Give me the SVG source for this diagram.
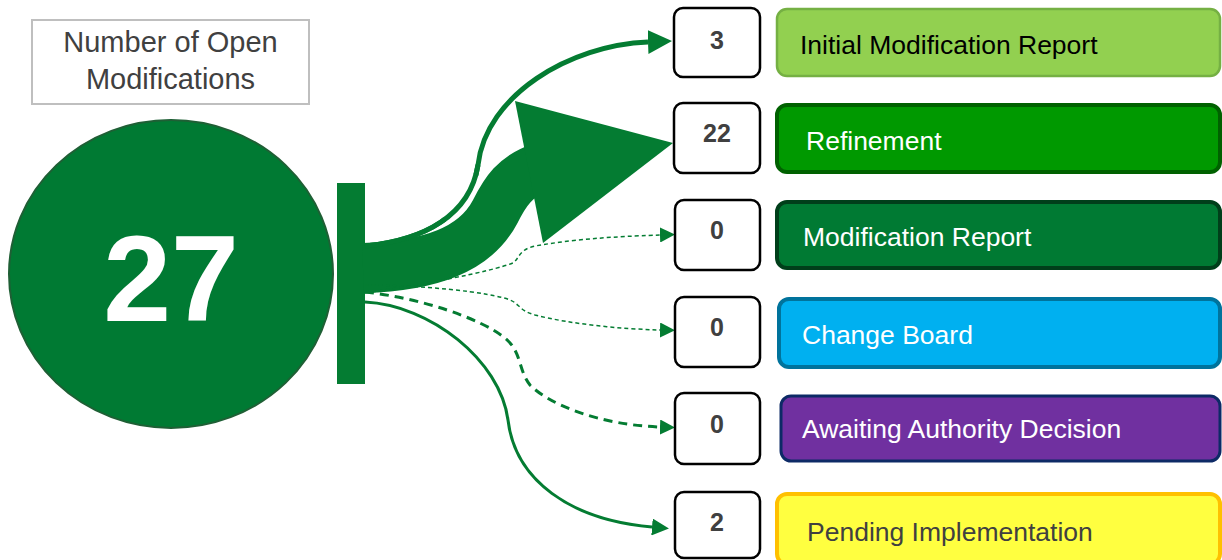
<svg xmlns="http://www.w3.org/2000/svg" width="1222" height="560" viewBox="0 0 1222 560">
<style>
.num{fill:#fff;stroke:#000;stroke-width:2.5}
.numt{font-family:"Liberation Sans",Arial,sans-serif;font-weight:bold;font-size:25px;fill:#404040;text-anchor:middle}
.lbl{font-family:"Liberation Sans",Arial,sans-serif;font-size:26.5px}
.ttl{font-family:"Liberation Sans",Arial,sans-serif;font-size:29px;fill:#404040;text-anchor:middle}
.cn{fill:none;stroke:#047c32}
</style>
<defs>
<marker id="mA" markerUnits="userSpaceOnUse" markerWidth="24" markerHeight="24" refX="0" refY="12" orient="auto" viewBox="0 0 24 24"><path d="M0,0 L24,12 L0,24 Z" fill="#047c32"/></marker>
<marker id="mB" markerUnits="userSpaceOnUse" markerWidth="15" markerHeight="15" refX="0" refY="7.5" orient="auto" viewBox="0 0 15 15"><path d="M0,0 L15,7.5 L0,15 Z" fill="#047c32"/></marker>
<marker id="mC" markerUnits="userSpaceOnUse" markerWidth="17" markerHeight="17" refX="0" refY="8.5" orient="auto" viewBox="0 0 17 17"><path d="M0,0 L17,8.5 L0,17 Z" fill="#047c32"/></marker>
</defs>
<rect width="1222" height="560" fill="#fff"/>
<g id="title">
<rect x="32" y="20" width="277" height="84" fill="#fff" stroke="#bfbfbf" stroke-width="2"/>
<text class="ttl" x="170.5" y="52">Number of Open</text>
<text class="ttl" x="170.5" y="89">Modifications</text>
</g>
<g id="total">
<ellipse cx="171" cy="274" rx="162" ry="154" fill="#007a33" stroke="#1f5f35" stroke-width="2"/>
<text x="171" y="321" text-anchor="middle" font-family="Liberation Sans,Arial,sans-serif" font-weight="bold" font-size="122" fill="#fff">27</text>
</g>
<g id="connectors">
<rect x="337" y="183" width="28" height="201" fill="#047c32"/>
<path class="cn" d="M365,246 C425,240 470,215 478,165 C486,95 570,45 648,42" stroke-width="5" marker-end="url(#mA)"/>
<path class="cn" d="M363,268 C430,266 475,250 495,212 C505,192 515,176 540,168" stroke-width="50"/>
<path d="M365,246 C425,240 470,215 478,165" fill="none" stroke="#fff" stroke-width="8" stroke-dasharray="0 85 55 1000"/>
<path class="cn" d="M365,246 C425,240 470,215 478,165" stroke-width="5"/>
<polygon points="515,101 673,143 543,243" fill="#047c32"/>
<path class="cn" d="M365,293 C420,285 490,272 513,263 C520,258 518,250 535,246 C580,238 630,236 660,235" stroke-width="1.5" stroke-dasharray="4 3" marker-end="url(#mB)"/>
<path class="cn" d="M365,285 C420,285 490,292 510,300 C520,304 518,310 535,315 C570,324 620,329 660,330" stroke-width="1.5" stroke-dasharray="4 3" marker-end="url(#mB)"/>
<path class="cn" d="M365,292 C420,298 480,318 505,338 C522,352 518,370 530,385 C550,405 600,425 660,427" stroke-width="3" stroke-dasharray="9 6" marker-end="url(#mB)"/>
<path class="cn" d="M365,302 C430,305 500,360 508,420 C515,480 570,520 652,527" stroke-width="3" marker-end="url(#mC)"/>
</g>
<g id="n1"><rect class="num" x="674" y="8" width="86" height="69" rx="9"/><text class="numt" x="717" y="49">3</text></g>
<g id="n2"><rect class="num" x="674" y="103" width="86" height="70" rx="9"/><text class="numt" x="717" y="142">22</text></g>
<g id="n3"><rect class="num" x="675" y="200" width="85" height="70" rx="9"/><text class="numt" x="717" y="239">0</text></g>
<g id="n4"><rect class="num" x="675" y="297" width="85" height="70" rx="9"/><text class="numt" x="717" y="336">0</text></g>
<g id="n5"><rect class="num" x="675" y="393" width="85" height="71" rx="9"/><text class="numt" x="717" y="433">0</text></g>
<g id="n6"><rect class="num" x="675" y="492" width="85" height="66" rx="9"/><text class="numt" x="717" y="531">2</text></g>
<g id="s1"><rect x="777" y="9" width="443" height="67" rx="10" fill="#92d050" stroke="#75b043" stroke-width="2.5"/><text class="lbl" x="800" y="54" fill="#000">Initial Modification Report</text></g>
<g id="s2"><rect x="777" y="105" width="443" height="67" rx="10" fill="#009900" stroke="#006100" stroke-width="4"/><text class="lbl" x="806" y="150" fill="#fff">Refinement</text></g>
<g id="s3"><rect x="777" y="202" width="443" height="66" rx="10" fill="#007a33" stroke="#003f1a" stroke-width="4"/><text class="lbl" x="803" y="246" fill="#fff">Modification Report</text></g>
<g id="s4"><rect x="779" y="299" width="441" height="68" rx="10" fill="#00b0f0" stroke="#00739c" stroke-width="4"/><text class="lbl" x="802" y="344" fill="#fff">Change Board</text></g>
<g id="s5"><rect x="781" y="396" width="439" height="65" rx="10" fill="#7030a0" stroke="#0d2a66" stroke-width="3"/><text class="lbl" x="802" y="438" fill="#fff">Awaiting Authority Decision</text></g>
<g id="s6"><rect x="777" y="494" width="443" height="70" rx="10" fill="#ffff40" stroke="#ffc000" stroke-width="4"/><text class="lbl" x="807" y="541" fill="#404040">Pending Implementation</text></g>
</svg>
